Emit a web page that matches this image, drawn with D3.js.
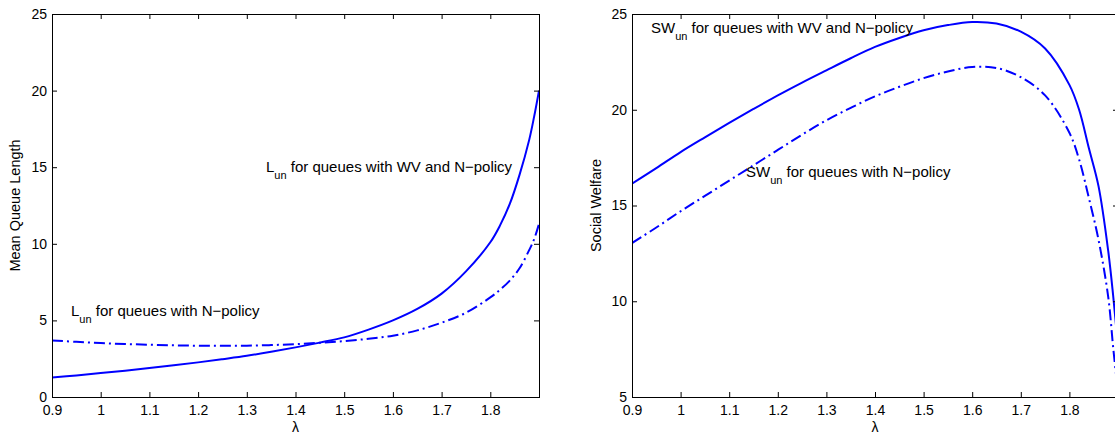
<!DOCTYPE html>
<html>
<head>
<meta charset="utf-8">
<script src="https://cdn.jsdelivr.net/npm/d3@7/dist/d3.min.js"></script>
<style>
  html, body { margin: 0; padding: 0; background: #fff; }
  svg { display: block; }
  text { font-family: "Liberation Sans", Arial, Helvetica, sans-serif; fill: #000; }
</style>
</head>
<body>
<svg id="fig" width="1115" height="437"></svg>
<script>
// Arrival rate values shared by all four curves
const lambda = [0.9, 0.95, 1.0, 1.05, 1.1, 1.15, 1.2, 1.25, 1.3, 1.35, 1.4, 1.45, 1.5,
                1.55, 1.6, 1.65, 1.7, 1.75, 1.8, 1.82, 1.84, 1.86, 1.88, 1.89, 1.9];

// Mean queue length, unobservable case
const lenWV = [1.28, 1.41, 1.56, 1.72, 1.89, 2.07, 2.26, 2.47, 2.69, 2.95, 3.24, 3.55, 3.89,
               4.4, 5.0, 5.75, 6.75, 8.2, 10.1, 11.2, 12.6, 14.5, 16.8, 18.3, 20.0];
const lenN  = [3.69, 3.6, 3.52, 3.46, 3.41, 3.37, 3.35, 3.34, 3.35, 3.39, 3.45, 3.54, 3.65,
               3.8, 4.0, 4.35, 4.85, 5.5, 6.5, 7.0, 7.6, 8.4, 9.6, 10.3, 11.3];

// Social welfare, unobservable case
const swWV = [16.14, 16.95, 17.79, 18.56, 19.31, 20.04, 20.75, 21.42, 22.06, 22.69, 23.28, 23.75, 24.15,
              24.42, 24.58, 24.5, 24.08, 23.2, 21.3, 20.0, 18.0, 16.0, 12.6, 10.3, 7.6];
const swN  = [13.04, 13.85, 14.7, 15.5, 16.3, 17.1, 17.9, 18.7, 19.45, 20.1, 20.7, 21.2, 21.65,
              22.0, 22.23, 22.18, 21.7, 20.75, 18.8, 17.4, 15.4, 13.2, 10.2, 7.6, 5.2];

// Axis ticks
const xTicks = [0.9, 1.0, 1.1, 1.2, 1.3, 1.4, 1.5, 1.6, 1.7, 1.8];
const xTickLabels = ["0.9", "1", "1.1", "1.2", "1.3", "1.4", "1.5", "1.6", "1.7", "1.8"];
const yTicksLen = [0, 5, 10, 15, 20, 25];
const yTicksSW = [5, 10, 15, 20, 25];

const svg = d3.select("#fig");
const BLUE = "#0000ff";
const TICK_FONT = 14;

function panel(opts) {
  const { left, right, top, bottom, yDomain, yTicks, yLabel, series, notes, id } = opts;
  const x = d3.scaleLinear().domain([0.9, 1.9]).range([left, right]);
  const y = d3.scaleLinear().domain(yDomain).range([bottom, top]);
  const g = svg.append("g");

  g.append("clipPath").attr("id", id).append("rect")
    .attr("x", left).attr("y", top).attr("width", right - left).attr("height", bottom - top);

  // curves
  const line = d3.line().x(d => x(d[0])).y(d => y(d[1])).curve(d3.curveCatmullRom.alpha(0.5));
  series.forEach(s => {
    g.append("path")
      .datum(lambda.map((l, i) => [l, s.values[i]]))
      .attr("clip-path", `url(#${id})`)
      .attr("d", line)
      .attr("fill", "none")
      .attr("stroke", BLUE)
      .attr("stroke-width", 2)
      .attr("stroke-dasharray", s.dash || null);
  });

  // axes with inward ticks on all four sides
  const fmt = (d) => xTickLabels[xTicks.indexOf(d)];
  const bottomAx = g.append("g").attr("transform", `translate(0,${bottom})`)
    .call(d3.axisBottom(x).tickValues(xTicks).tickFormat(fmt).tickSize(-5).tickSizeOuter(0).tickPadding(8));
  const topAx = g.append("g").attr("transform", `translate(0,${top})`)
    .call(d3.axisTop(x).tickValues(xTicks).tickFormat("").tickSize(-5).tickSizeOuter(0));
  const leftAx = g.append("g").attr("transform", `translate(${left},0)`)
    .call(d3.axisLeft(y).tickValues(yTicks).tickFormat(d3.format("d")).tickSize(-5).tickSizeOuter(0).tickPadding(5));
  const rightAx = g.append("g").attr("transform", `translate(${right},0)`)
    .call(d3.axisRight(y).tickValues(yTicks).tickFormat("").tickSize(-5).tickSizeOuter(0));
  [bottomAx, topAx, leftAx, rightAx].forEach(a => {
    a.select(".domain").remove();
    a.selectAll("line").attr("stroke", "#000");
    a.selectAll("text").style("font-size", TICK_FONT + "px")
      .style("font-family", '"Liberation Sans", Arial, sans-serif').attr("fill", "#000");
  });

  // frame
  g.append("rect").attr("x", left + 0.5).attr("y", top + 0.5)
    .attr("width", right - left).attr("height", bottom - top)
    .attr("fill", "none").attr("stroke", "#000").attr("stroke-width", 1);

  // axis titles
  g.append("text").attr("x", (left + right) / 2).attr("y", 432)
    .attr("text-anchor", "middle").style("font-size", "14px").text("λ");
  g.append("text")
    .attr("transform", `translate(${opts.yLabelX},${(top + bottom) / 2}) rotate(-90)`)
    .attr("text-anchor", "middle").style("font-size", "14.5px").text(yLabel);

  // curve annotations with subscripts
  notes.forEach(n => {
    const t = g.append("text").attr("x", n.x).attr("y", n.y).style("font-size", "15px");
    t.append("tspan").text(n.main);
    t.append("tspan").attr("dy", 7).style("font-size", "11px").text("un");
    t.append("tspan").attr("dy", -7).text(" " + n.rest);
  });
}

panel({
  id: "clipA", left: 52, right: 539, top: 14, bottom: 397,
  yDomain: [0, 25], yTicks: yTicksLen, yLabel: "Mean Queue Length", yLabelX: 20,
  series: [{ values: lenWV }, { values: lenN, dash: "11,4,2,4" }],
  notes: [
    { x: 266, y: 172, main: "L", rest: "for queues with WV and N\u2212policy" },
    { x: 71, y: 316, main: "L", rest: "for queues with N\u2212policy" }
  ]
});

panel({
  id: "clipB", left: 632, right: 1118, top: 14, bottom: 397,
  yDomain: [5, 25], yTicks: yTicksSW, yLabel: "Social Welfare", yLabelX: 601,
  series: [{ values: swWV }, { values: swN, dash: "11,4,2,4" }],
  notes: [
    { x: 651, y: 33, main: "SW", rest: "for queues with WV and N\u2212policy" },
    { x: 746, y: 177, main: "SW", rest: "for queues with N\u2212policy" }
  ]
});
</script>
</body>
</html>
